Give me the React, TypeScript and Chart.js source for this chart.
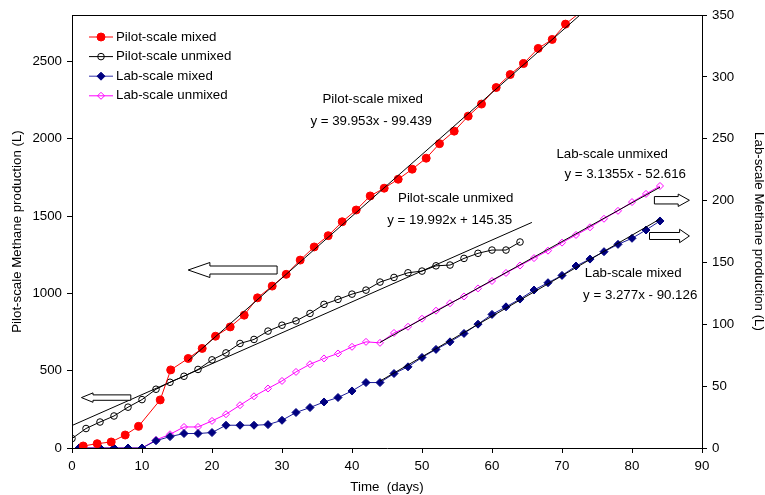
import { useEffect, useRef } from "react";
import { Chart, registerables } from "chart.js";

Chart.register(...registerables);

// ---------- data ----------
const pilotMixedDays = [1.6, 3.6, 5.6, 7.6, 9.5, 12.6, 14.1, 16.6, 18.6, 20.5, 22.6, 24.6, 26.5, 28.6, 30.6, 32.6, 34.6, 36.6, 38.6, 40.6, 42.6, 44.6, 46.6, 48.6, 50.6, 52.5, 54.6, 56.6, 58.5, 60.6, 62.6, 64.5, 66.6, 68.6, 70.5, 73.1];
const pilotMixedValues = [13, 28, 39, 84, 140, 311, 505, 579, 644, 723, 783, 859, 971, 1047, 1123, 1215, 1300, 1373, 1463, 1539, 1630, 1680, 1738, 1803, 1874, 1968, 2049, 2146, 2224, 2331, 2415, 2486, 2584, 2642, 2741, 2835];

const pilotUnmixedDays = [0, 2, 4, 6, 8, 10, 12, 14, 16, 18, 20, 22, 24, 26, 28, 30, 32, 34, 36, 38, 40, 42, 44, 46, 48, 50, 52, 54, 56, 58, 60, 62, 64];
const pilotUnmixedValues = [61, 126, 168, 207, 264, 313, 380, 425, 464, 508, 570, 615, 676, 702, 756, 794, 822, 870, 929, 961, 995, 1021, 1073, 1103, 1133, 1144, 1178, 1183, 1226, 1259, 1280, 1280, 1332];

const labDays = [1, 4, 6, 8, 10, 12, 14, 16, 18, 20, 22, 24, 26, 28, 30, 32, 34, 36, 38, 40, 42, 44, 46, 48, 50, 52, 54, 56, 58, 60, 62, 64, 66, 68, 70, 72, 74, 76, 78, 80, 82, 84];
const labMixedValues = [0, 0, 0, 0, 0, 5.9, 9.2, 11.7, 11.7, 12.5, 18.4, 18.4, 18.4, 18.9, 22.4, 28.7, 32.7, 37.2, 40.8, 46.1, 52.9, 52.9, 60.2, 65.6, 73.2, 79.7, 85.8, 92.6, 100.1, 108, 114.1, 120.4, 127.7, 133.6, 139.5, 147.1, 152.7, 158.7, 164.6, 169.5, 176.2, 183.5];
const labUnmixedValues = [0, 0, 0, 0, 0, 6.5, 11.1, 17, 17, 21.9, 27.3, 34.6, 41.8, 48.1, 54.2, 61.5, 67.7, 72.4, 76.4, 81.8, 85.8, 85, 93, 98, 104.5, 111, 117, 122.5, 129, 135, 141.5, 147.5, 153.5, 159.5, 166, 172.2, 178.4, 185.3, 191.7, 198.8, 205.4, 211.8];

// trend line end points (from the printed regression equations)
const trendPilotMixedX = [16.6, 72.6];
const trendPilotMixedY = [563.8, 2801.2];
const trendPilotUnmixedX = [0, 65.7];
const trendPilotUnmixedY = [145.35, 1458.8];
const trendLabUnmixedX = [44, 84];
const trendLabUnmixedY = [85.35, 210.77];
const trendLabMixedX = [44, 84];
const trendLabMixedY = [54.06, 185.14];

const xTicks = [0, 10, 20, 30, 40, 50, 60, 70, 80, 90];
const leftTicks = [0, 500, 1000, 1500, 2000, 2500];
const rightTicks = [0, 50, 100, 150, 200, 250, 300, 350];

const seriesNames = ["Pilot-scale mixed", "Pilot-scale unmixed", "Lab-scale mixed", "Lab-scale unmixed"];

// annotation texts (x in days, y in left-axis units)
const noteTexts = ["Pilot-scale mixed", "y = 39.953x - 99.439", "Pilot-scale unmixed", "y = 19.992x + 145.35", "Lab-scale unmixed", "y = 3.1355x - 52.616", "Lab-scale mixed", "y = 3.277x - 90.126"];
const noteX = [42.96, 42.74, 54.81, 53.96, 77.17, 79.03, 80.17, 81.17];
const noteY = [2256, 2111, 1617, 1470, 1900, 1772, 1131, 987];

// arrows (x in days, y in left-axis units)
const arrowTail = [29.3, 8.4, 83.2, 82.5];
const arrowHead = [19.7, 3.0, 86.6, 86.8];
const arrowTip = [16.6, 1.35, 88.2, 88.2];
const arrowY = [1151, 326, 1602, 1371];

// ---------- styles ----------
const FONT = '"Liberation Sans", Arial, sans-serif';
const FS = 13.3;
const RED = "#ff0000";
const BLACK = "#000000";
const NAVY = "#000080";
const MAGENTA = "#ff00ff";
const arrowBody = [4, 2.7, 3.7, 3.5];
const arrowHeadHalf = [7.5, 4.7, 6.2, 6.7];

function pts(xs: number[], ys: number[]) {
  return xs.map((x, i) => ({ x, y: ys[i] }));
}

function drawMarker(ctx: CanvasRenderingContext2D, style: string, x: number, y: number, r: number, fill: string | null, stroke: string) {
  ctx.beginPath();
  if (style === "circle") {
    ctx.arc(x, y, r, 0, Math.PI * 2);
  } else {
    ctx.moveTo(x, y - r);
    ctx.lineTo(x + r, y);
    ctx.lineTo(x, y + r);
    ctx.lineTo(x - r, y);
    ctx.closePath();
  }
  if (fill) {
    ctx.fillStyle = fill;
    ctx.fill();
  }
  ctx.strokeStyle = stroke;
  ctx.lineWidth = 1;
  ctx.stroke();
}

const overlayPlugin = {
  id: "overlay",
  afterDatasetsDraw(chart: any) {
    const { ctx, chartArea: a, scales } = chart;
    const xs = scales.x;
    const ys = scales.y;
    ctx.save();
    // top border of plot area
    ctx.strokeStyle = "#000";
    ctx.lineWidth = 1;
    ctx.beginPath();
    ctx.moveTo(a.left, Math.round(a.top) + 0.5);
    ctx.lineTo(a.right, Math.round(a.top) + 0.5);
    ctx.stroke();

    // block arrows
    for (let i = 0; i < arrowTail.length; i++) {
      const py = ys.getPixelForValue(arrowY[i]);
      const tx = xs.getPixelForValue(arrowTail[i]);
      const hx = xs.getPixelForValue(arrowHead[i]);
      const px = xs.getPixelForValue(arrowTip[i]);
      const b = arrowBody[i];
      const h = arrowHeadHalf[i];
      ctx.beginPath();
      ctx.moveTo(tx, py - b);
      ctx.lineTo(hx, py - b);
      ctx.lineTo(hx, py - h);
      ctx.lineTo(px, py);
      ctx.lineTo(hx, py + h);
      ctx.lineTo(hx, py + b);
      ctx.lineTo(tx, py + b);
      ctx.closePath();
      ctx.fillStyle = "#fff";
      ctx.fill();
      ctx.strokeStyle = "#000";
      ctx.lineWidth = 1;
      ctx.stroke();
    }

    // annotation texts
    ctx.font = `${FS}px ${FONT}`;
    ctx.fillStyle = "#000";
    ctx.textAlign = "center";
    ctx.textBaseline = "middle";
    for (let i = 0; i < noteTexts.length; i++) {
      ctx.fillText(noteTexts[i], xs.getPixelForValue(noteX[i]), ys.getPixelForValue(noteY[i]));
    }

    // legend
    const markers = [
      { style: "circle", r: 4, fill: RED, stroke: RED, line: RED },
      { style: "circle", r: 3.3, fill: null, stroke: BLACK, line: BLACK },
      { style: "diamond", r: 4, fill: NAVY, stroke: NAVY, line: "#3333aa" },
      { style: "diamond", r: 3.5, fill: null, stroke: MAGENTA, line: MAGENTA },
    ];
    const lx0 = a.left + 17;
    const lx1 = a.left + 41;
    ctx.textAlign = "left";
    for (let i = 0; i < seriesNames.length; i++) {
      const yy = a.top + 22 + i * 19.6;
      const m = markers[i];
      ctx.strokeStyle = m.line;
      ctx.lineWidth = 1;
      ctx.beginPath();
      ctx.moveTo(lx0, yy);
      ctx.lineTo(lx1, yy);
      ctx.stroke();
      drawMarker(ctx, m.style, (lx0 + lx1) / 2, yy, m.r, m.fill, m.stroke);
      ctx.fillStyle = "#000";
      ctx.fillText(seriesNames[i], lx1 + 3, yy);
    }
    ctx.restore();
  },
};

export default function App() {
  const ref = useRef<HTMLCanvasElement | null>(null);

  useEffect(() => {
    if (!ref.current) return;
    Chart.defaults.font.family = FONT;
    Chart.defaults.font.size = FS;
    Chart.defaults.color = "#000";

    const tickFont = { family: FONT, size: FS };
    const axisCommon = {
      grid: { drawOnChartArea: false, drawTicks: true, tickLength: 5, color: "#000" },
      border: { color: "#000", width: 1 },
    };
    const plainLabel = (v: any) => String(v);

    const chart = new Chart(ref.current, {
      type: "line",
      data: {
        datasets: [
          {
            label: seriesNames[0],
            data: pts(pilotMixedDays, pilotMixedValues),
            borderColor: RED,
            backgroundColor: RED,
            borderWidth: 1,
            pointStyle: "circle",
            pointRadius: 4,
            pointBackgroundColor: RED,
            pointBorderColor: RED,
            yAxisID: "y",
            order: 2,
          },
          {
            label: seriesNames[1],
            data: pts(pilotUnmixedDays, pilotUnmixedValues),
            borderColor: BLACK,
            borderWidth: 1,
            pointStyle: "circle",
            pointRadius: 3.3,
            pointBackgroundColor: "rgba(0,0,0,0)",
            pointBorderColor: BLACK,
            yAxisID: "y",
            order: 2,
          },
          {
            label: seriesNames[2],
            data: pts(labDays, labMixedValues),
            borderColor: "#1a1a99",
            borderWidth: 1,
            pointStyle: "rectRot",
            pointRadius: 4,
            pointBackgroundColor: NAVY,
            pointBorderColor: NAVY,
            yAxisID: "y2",
            order: 2,
          },
          {
            label: seriesNames[3],
            data: pts(labDays, labUnmixedValues),
            borderColor: MAGENTA,
            borderWidth: 1,
            pointStyle: "rectRot",
            pointRadius: 3.5,
            pointBackgroundColor: "rgba(0,0,0,0)",
            pointBorderColor: MAGENTA,
            yAxisID: "y2",
            order: 2,
          },
          {
            label: "trend1",
            data: pts(trendPilotMixedX, trendPilotMixedY),
            borderColor: BLACK,
            borderWidth: 1,
            pointRadius: 0,
            yAxisID: "y",
            order: 1,
          },
          {
            label: "trend2",
            data: pts(trendPilotUnmixedX, trendPilotUnmixedY),
            borderColor: BLACK,
            borderWidth: 1,
            pointRadius: 0,
            yAxisID: "y",
            order: 1,
          },
          {
            label: "trend3",
            data: pts(trendLabUnmixedX, trendLabUnmixedY),
            borderColor: BLACK,
            borderWidth: 1,
            pointRadius: 0,
            yAxisID: "y2",
            order: 1,
          },
          {
            label: "trend4",
            data: pts(trendLabMixedX, trendLabMixedY),
            borderColor: BLACK,
            borderWidth: 1,
            pointRadius: 0,
            yAxisID: "y2",
            order: 1,
          },
        ],
      },
      options: {
        animation: false,
        responsive: false,
        devicePixelRatio: 1,
        layout: { padding: { top: 15, left: 0, right: 0, bottom: 0 } },
        elements: { line: { tension: 0 } },
        plugins: {
          legend: { display: false },
          tooltip: { enabled: false },
          title: { display: false },
        },
        scales: {
          x: {
            type: "linear",
            position: "bottom",
            min: 0,
            max: 90,
            afterBuildTicks: (s: any) => {
              s.ticks = xTicks.map((v) => ({ value: v }));
            },
            afterFit: (s: any) => {
              s.height = 47;
            },
            ...axisCommon,
            ticks: { color: "#000", font: tickFont, padding: 5, maxRotation: 0, autoSkip: false, callback: plainLabel },
            title: { display: true, text: "Time  (days)", color: "#000", font: tickFont, padding: { top: 0, bottom: 0 } },
          },
          y: {
            type: "linear",
            position: "left",
            min: 0,
            max: 2800,
            afterBuildTicks: (s: any) => {
              s.ticks = leftTicks.map((v) => ({ value: v }));
            },
            afterFit: (s: any) => {
              s.width = 72;
            },
            ...axisCommon,
            ticks: { color: "#000", font: tickFont, padding: 5, callback: plainLabel },
            title: { display: true, text: "Pilot-scale Methane production (L)", color: "#000", font: tickFont, padding: { top: 9, bottom: 0 } },
          },
          y2: {
            type: "linear",
            position: "right",
            min: 0,
            max: 350,
            afterBuildTicks: (s: any) => {
              s.ticks = rightTicks.map((v) => ({ value: v }));
            },
            afterFit: (s: any) => {
              s.width = 63;
            },
            ...axisCommon,
            ticks: { color: "#000", font: tickFont, padding: 5, callback: plainLabel },
            title: { display: true, text: "Lab-scale Methane production (L)", color: "#000", font: tickFont, padding: { top: -2, bottom: 0 } },
          },
        },
      },
      plugins: [overlayPlugin],
    } as any);

    return () => {
      chart.destroy();
    };
  }, []);

  return (
    <div style={{ position: "fixed", left: 0, top: 0, width: 765, height: 495, background: "#fff" }}>
      <canvas ref={ref} width={765} height={495} style={{ display: "block", width: 765, height: 495 }} />
    </div>
  );
}
